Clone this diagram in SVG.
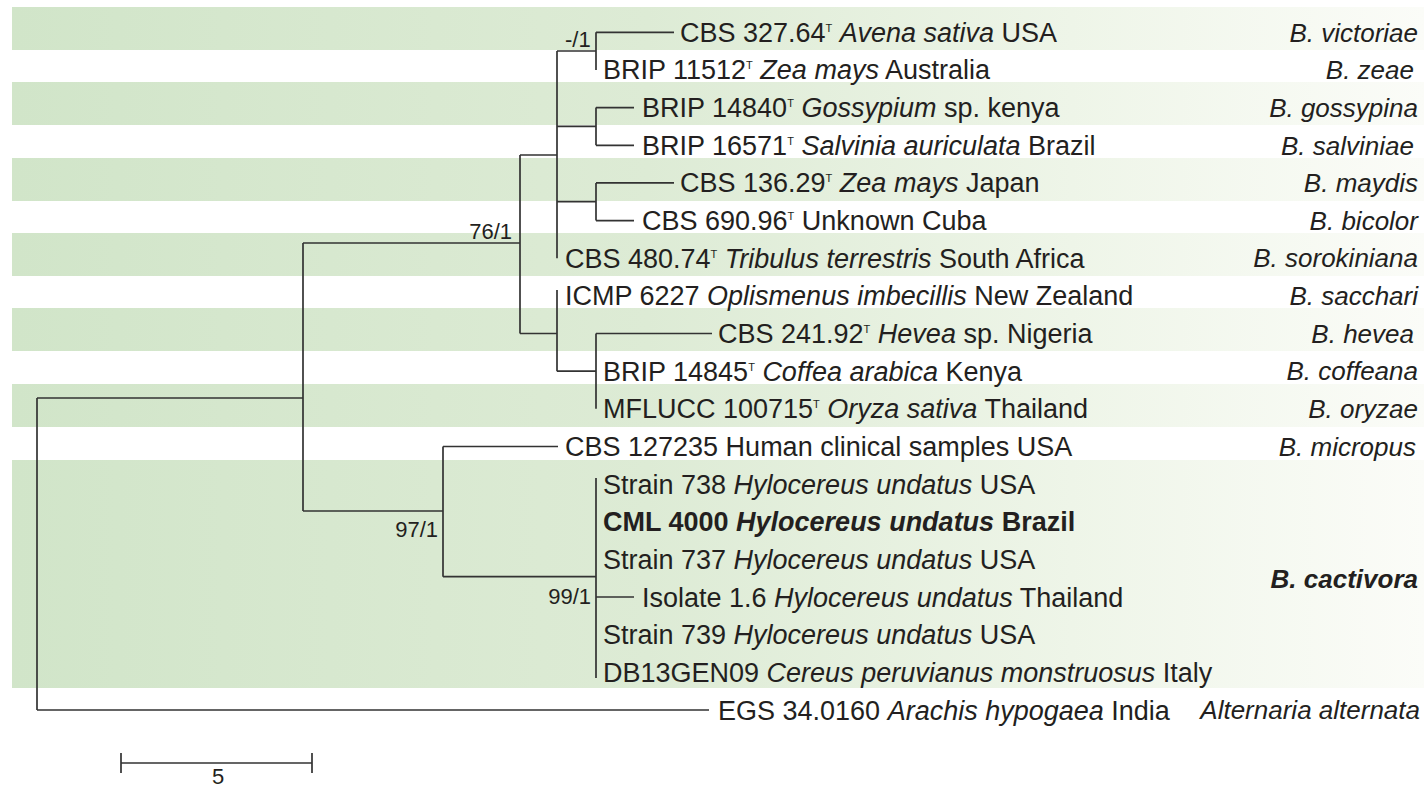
<svg xmlns="http://www.w3.org/2000/svg" width="1424" height="787" viewBox="0 0 1424 787">
<defs>
<linearGradient id="band" x1="0" y1="0" x2="1" y2="0">
<stop offset="0" stop-color="#d1e5c9"/>
<stop offset="0.45" stop-color="#ddebd5"/>
<stop offset="0.75" stop-color="#eef5e8"/>
<stop offset="1" stop-color="#fbfcf8"/>
</linearGradient>
<style>
.t{font-family:"Liberation Sans",Arial,sans-serif;font-size:27px;fill:#231f20}
.sp{font-family:"Liberation Sans",Arial,sans-serif;font-size:26px;font-style:italic;fill:#231f20;text-anchor:end}
.lb{font-family:"Liberation Sans",Arial,sans-serif;font-size:22px;fill:#231f20}
.i{font-style:italic}
.b{font-weight:bold}
.sup{font-size:11px}
.br{fill:none;stroke:#333;stroke-width:1.7}
</style>
</defs>
<rect width="1424" height="787" fill="#fff"/>
<g id="bands" fill="url(#band)">
<rect x="12" y="7" width="1412" height="43"/>
<rect x="12" y="82" width="1412" height="43"/>
<rect x="12" y="158" width="1412" height="43"/>
<rect x="12" y="233" width="1412" height="43"/>
<rect x="12" y="308" width="1412" height="43"/>
<rect x="12" y="384" width="1412" height="43"/>
<rect x="12" y="460" width="1412" height="228"/>
</g>
<g id="connectors" class="br">
<path d="M596 32.3V70M596 32.3H674M557 51H596"/>
<path d="M596 107.6V145.3M596 107.6H634M596 145.3H634M557 126.4H596"/>
<path d="M596 182.9V220.6M596 182.9H674M596 220.6H634M557 201.7H596"/>
<path d="M557 51V258.2M520 155H557"/>
<path d="M557 290V371.2M520 333.5H557"/>
<path d="M596 333.5V408.8M596 333.5H712M557 371.2H596"/>
<path d="M520 155V333.5M303 243H520"/>
<path d="M443 446.5V576.7M443 446.5H558M443 576.7H596"/>
<path d="M596 478V678M596 597H634"/>
<path d="M303 243V511M303 511H443"/>
<path d="M37 398V710M37 398H303M37 710H709"/>
<path d="M121 763H312M121 753V773M312 753V773"/>
</g>
<g id="n-victoriae"><text class="t" x="680" y="41.8">CBS 327.64<tspan class="sup" dy="-10">T</tspan><tspan dy="10"> </tspan><tspan class="i">Avena sativa</tspan> USA</text><text class="sp" x="1418" y="41.5">B. victoriae</text></g>
<g id="n-zeae"><text class="t" x="603" y="79.4">BRIP 11512<tspan class="sup" dy="-10">T</tspan><tspan dy="10"> </tspan><tspan class="i">Zea mays</tspan> Australia</text><text class="sp" x="1414" y="79">B. zeae</text></g>
<g id="n-gossypina"><text class="t" x="642" y="117.1">BRIP 14840<tspan class="sup" dy="-10">T</tspan><tspan dy="10"> </tspan><tspan class="i">Gossypium</tspan> sp. kenya</text><text class="sp" x="1418" y="116.8">B. gossypina</text></g>
<g id="n-salviniae"><text class="t" x="642" y="154.7">BRIP 16571<tspan class="sup" dy="-10">T</tspan><tspan dy="10"> </tspan><tspan class="i">Salvinia auriculata</tspan> Brazil</text><text class="sp" x="1414" y="154.5">B. salviniae</text></g>
<g id="n-maydis"><text class="t" x="680" y="192.4">CBS 136.29<tspan class="sup" dy="-10">T</tspan><tspan dy="10"> </tspan><tspan class="i">Zea mays</tspan> Japan</text><text class="sp" x="1418" y="192.1">B. maydis</text></g>
<g id="n-bicolor"><text class="t" x="642" y="230.1">CBS 690.96<tspan class="sup" dy="-10">T</tspan><tspan dy="10"> Unknown Cuba</tspan></text><text class="sp" x="1418" y="229.8">B. bicolor</text></g>
<g id="n-sorokiniana"><text class="t" x="565" y="267.7">CBS 480.74<tspan class="sup" dy="-10">T</tspan><tspan dy="10"> </tspan><tspan class="i">Tribulus terrestris</tspan> South Africa</text><text class="sp" x="1418" y="267.4">B. sorokiniana</text></g>
<g id="n-sacchari"><text class="t" x="565" y="305.4">ICMP 6227 <tspan class="i">Oplismenus imbecillis</tspan> New Zealand</text><text class="sp" x="1418" y="305.1">B. sacchari</text></g>
<g id="n-hevea"><text class="t" x="718" y="343">CBS 241.92<tspan class="sup" dy="-10">T</tspan><tspan dy="10"> </tspan><tspan class="i">Hevea</tspan> sp. Nigeria</text><text class="sp" x="1414" y="342.7">B. hevea</text></g>
<g id="n-coffeana"><text class="t" x="603" y="380.7">BRIP 14845<tspan class="sup" dy="-10">T</tspan><tspan dy="10"> </tspan><tspan class="i">Coffea arabica</tspan> Kenya</text><text class="sp" x="1418" y="380.4">B. coffeana</text></g>
<g id="n-oryzae"><text class="t" x="603" y="418.3">MFLUCC 100715<tspan class="sup" dy="-10">T</tspan><tspan dy="10"> </tspan><tspan class="i">Oryza sativa</tspan> Thailand</text><text class="sp" x="1418" y="418">B. oryzae</text></g>
<g id="n-micropus"><text class="t" x="565" y="456">CBS 127235 Human clinical samples USA</text><text class="sp" x="1416" y="455.7">B. micropus</text></g>
<g id="n-s738"><text class="t" x="603" y="493.6">Strain 738 <tspan class="i">Hylocereus undatus</tspan> USA</text></g>
<g id="n-cml4000"><text class="t b" x="603" y="531.3">CML 4000 <tspan class="i">Hylocereus undatus</tspan> Brazil</text></g>
<g id="n-s737"><text class="t" x="603" y="568.9">Strain 737 <tspan class="i">Hylocereus undatus</tspan> USA</text></g>
<g id="n-isolate"><text class="t" x="642" y="606.6">Isolate 1.6 <tspan class="i">Hylocereus undatus</tspan> Thailand</text></g>
<g id="n-s739"><text class="t" x="603" y="644.2">Strain 739 <tspan class="i">Hylocereus undatus</tspan> USA</text></g>
<g id="n-db13"><text class="t" x="603" y="681.9">DB13GEN09 <tspan class="i">Cereus peruvianus monstruosus</tspan> Italy</text></g>
<g id="n-cactivora"><text class="sp b" x="1418" y="587.5">B. cactivora</text></g>
<g id="n-egs"><text class="t" x="718" y="719.5">EGS 34.0160 <tspan class="i">Arachis hypogaea</tspan> India</text><text class="sp" x="1420" y="719.2">Alternaria alternata</text></g>
<g id="labels" class="lb">
<text x="565" y="47">-/1</text>
<text x="512" y="239" text-anchor="end">76/1</text>
<text x="438" y="537" text-anchor="end">97/1</text>
<text x="591" y="604" text-anchor="end">99/1</text>
<text x="218" y="784" text-anchor="middle">5</text>
</g>
</svg>
